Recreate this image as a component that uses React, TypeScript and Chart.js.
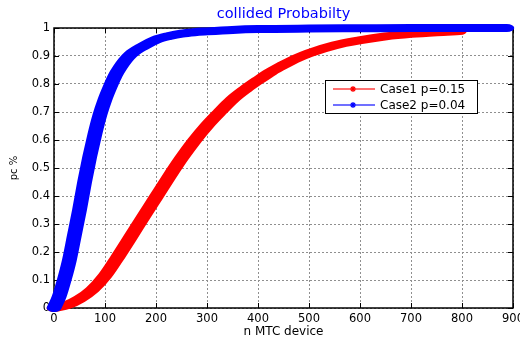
import React, { useEffect, useRef } from 'react';
import { Chart, registerables } from 'chart.js';

Chart.register(...registerables);

// ---- data ----
const chartTitle = 'collided Probabilty';
const xTitle = 'n MTC device';
const yTitle = 'pc %';
const seriesLabels = ['Case1 p=0.15', 'Case2 p=0.04'];
const seriesColors = ['#ff0000', '#0000ff'];

const caseOneN = [0, 25, 50, 75, 100, 125, 150, 175, 200, 225, 250, 275, 300, 325, 350, 375, 400, 425, 450, 475, 500, 550, 600, 650, 700, 750, 795];
const caseOneP = [0, 0.01, 0.032, 0.065, 0.115, 0.182, 0.253, 0.325, 0.396, 0.467, 0.535, 0.597, 0.652, 0.7, 0.745, 0.781, 0.813, 0.843, 0.868, 0.891, 0.91, 0.938, 0.956, 0.97, 0.979, 0.985, 0.989];

const caseTwoN = [0, 10, 20, 30, 40, 50, 60, 70, 80, 90, 100, 110, 120, 130, 140, 150, 175, 200, 225, 250, 275, 300, 350, 400, 500, 600, 700, 800, 888];
const caseTwoP = [0, 0.04, 0.1, 0.17, 0.26, 0.35, 0.45, 0.54, 0.62, 0.69, 0.745, 0.79, 0.83, 0.86, 0.885, 0.905, 0.935, 0.958, 0.971, 0.98, 0.985, 0.988, 0.993, 0.996, 0.998, 0.999, 1, 1, 1];

const xMin = 0, xMax = 900, xStep = 100;
const yMin = 0, yMax = 1, yStep = 0.1;

const FONT = '"DejaVu Sans", "Liberation Sans", sans-serif';
const PEN_STRETCH = 1.85;

// stroke the curves with an elliptical pen (wide marker band like the reference)
const penStretch = {
  id: 'penStretch',
  beforeDatasetDraw(chart: any) {
    const ctx: any = chart.ctx;
    const proto = CanvasRenderingContext2D.prototype.stroke;
    ctx.stroke = function (p?: any) {
      this.save();
      if (p instanceof Path2D) {
        const np = new Path2D();
        np.addPath(p, new DOMMatrix([1 / PEN_STRETCH, 0, 0, 1, 0, 0]));
        this.transform(PEN_STRETCH, 0, 0, 1, 0, 0);
        proto.call(this, np);
      } else {
        this.transform(PEN_STRETCH, 0, 0, 1, 0, 0);
        proto.call(this);
      }
      this.restore();
    };
  },
  afterDatasetDraw(chart: any) {
    delete (chart.ctx as any).stroke;
  },
};

function drawStar(ctx: CanvasRenderingContext2D, cx: number, cy: number, r: number) {
  ctx.beginPath();
  ctx.moveTo(cx - r, cy); ctx.lineTo(cx + r, cy);
  ctx.moveTo(cx, cy - r); ctx.lineTo(cx, cy + r);
  const d = r * 0.7;
  ctx.moveTo(cx - d, cy - d); ctx.lineTo(cx + d, cy + d);
  ctx.moveTo(cx - d, cy + d); ctx.lineTo(cx + d, cy - d);
  ctx.stroke();
}

const frame = {
  id: 'frame',
  beforeDatasetsDraw(chart: any) {
    const { ctx, chartArea } = chart;
    const { left, top, right, bottom } = chartArea;
    const xs = chart.scales.x;
    const ys = chart.scales.y;
    ctx.save();
    ctx.strokeStyle = '#000';
    ctx.lineWidth = 1;
    const tl = 5;
    ctx.beginPath();
    xs.ticks.forEach((t: any) => {
      const px = Math.round(xs.getPixelForValue(t.value)) + 0.5;
      ctx.moveTo(px, bottom); ctx.lineTo(px, bottom - tl);
      ctx.moveTo(px, top); ctx.lineTo(px, top + tl);
    });
    ys.ticks.forEach((t: any) => {
      const py = Math.round(ys.getPixelForValue(t.value)) + 0.5;
      ctx.moveTo(left, py); ctx.lineTo(left + tl, py);
      ctx.moveTo(right, py); ctx.lineTo(right - tl, py);
    });
    ctx.stroke();
    ctx.lineWidth = 1.5;
    ctx.strokeRect(left, top, right - left, bottom - top);
    ctx.restore();
  },
};

const legendBox = {
  id: 'legendBox',
  afterDraw(chart: any) {
    const { ctx, chartArea } = chart;
    const bx = chartArea.right - 188;
    const by = chartArea.top + 52;
    const bw = 152;
    const bh = 33;
    ctx.save();
    ctx.fillStyle = '#fff';
    ctx.fillRect(bx, by, bw, bh);
    ctx.strokeStyle = '#000';
    ctx.lineWidth = 1;
    ctx.strokeRect(bx + 0.5, by + 0.5, bw, bh);
    chart.data.datasets.forEach((ds: any, i: number) => {
      const rowY = by + 9 + i * 16;
      ctx.strokeStyle = ds.borderColor;
      ctx.globalAlpha = 0.75;
      ctx.lineWidth = 1.5;
      ctx.beginPath();
      ctx.moveTo(bx + 8, rowY); ctx.lineTo(bx + 50, rowY);
      ctx.stroke();
      ctx.globalAlpha = 1;
      ctx.lineWidth = 1.2;
      drawStar(ctx, bx + 28, rowY, 3);
      ctx.fillStyle = '#000';
      ctx.font = `12px ${FONT}`;
      ctx.textBaseline = 'middle';
      ctx.textAlign = 'left';
      ctx.fillText(ds.label, bx + 55, rowY + 0.5);
    });
    ctx.restore();
  },
};

export default function App() {
  const ref = useRef<HTMLCanvasElement | null>(null);
  useEffect(() => {
    document.body.style.margin = '0';
    const canvas = ref.current;
    if (!canvas) return;
    const toPts = (xs: number[], ys: number[]) => xs.map((n, i) => ({ x: n, y: ys[i] }));
    const chart = new Chart(canvas, {
      type: 'line',
      data: {
        datasets: [
          {
            label: seriesLabels[0],
            data: toPts(caseOneN, caseOneP),
            borderColor: seriesColors[0],
            backgroundColor: seriesColors[0],
            borderWidth: 8,
            pointRadius: 0,
            cubicInterpolationMode: 'monotone',
            borderCapStyle: 'round',
            borderJoinStyle: 'round',
            clip: false,
            order: 1,
          } as any,
          {
            label: seriesLabels[1],
            data: toPts(caseTwoN, caseTwoP),
            borderColor: seriesColors[1],
            backgroundColor: seriesColors[1],
            borderWidth: 8,
            pointRadius: 0,
            cubicInterpolationMode: 'monotone',
            borderCapStyle: 'round',
            borderJoinStyle: 'round',
            clip: false,
            order: 0,
          } as any,
        ],
      },
      options: {
        animation: false,
        responsive: false,
        maintainAspectRatio: false,
        layout: { padding: { left: 0, right: 7, top: 0, bottom: 0 } },
        plugins: {
          legend: { display: false },
          tooltip: { enabled: false },
          title: {
            display: true,
            text: chartTitle,
            color: '#0000ff',
            fullSize: false,
            font: { family: FONT, size: 14.5, weight: 'normal' },
            padding: { top: 6, bottom: 4.6 },
          },
        },
        scales: {
          x: {
            type: 'linear',
            min: xMin,
            max: xMax,
            ticks: {
              stepSize: xStep,
              color: '#000',
              padding: 4,
              maxRotation: 0,
              autoSkip: false,
              font: { family: FONT, size: 11.5 },
            },
            grid: { color: '#8f8f8f', lineWidth: 1, drawTicks: false },
            border: { display: false, dash: [2, 2] },
            title: {
              display: true,
              text: xTitle,
              color: '#000',
              font: { family: FONT, size: 12, lineHeight: 1 },
              padding: { top: 0, bottom: 0 },
            },
            afterFit(scale: any) {
              scale.height = 30;
              scale.paddingLeft = 0;
              scale.paddingRight = 0;
            },
          },
          y: {
            type: 'linear',
            min: yMin,
            max: yMax,
            ticks: {
              stepSize: yStep,
              color: '#000',
              padding: 4,
              autoSkip: false,
              font: { family: FONT, size: 11.5 },
              callback: (v: any) => String(Number(Number(v).toFixed(1))),
            },
            grid: { color: '#8f8f8f', lineWidth: 1, drawTicks: false },
            border: { display: false, dash: [2, 2] },
            title: {
              display: true,
              text: yTitle,
              color: '#000',
              font: { family: FONT, size: 10, lineHeight: 1.2 },
              padding: { top: 8, bottom: 0 },
            },
            afterFit(scale: any) {
              scale.width = 54;
              scale.paddingTop = 0;
              scale.paddingBottom = 0;
            },
          },
        },
      } as any,
      plugins: [frame, penStretch, legendBox],
    });
    return () => chart.destroy();
  }, []);
  return (
    <div style={{ width: 520, height: 338, background: '#fff' }}>
      <canvas ref={ref} width={520} height={338} style={{ display: 'block', width: 520, height: 338 }} />
    </div>
  );
}
